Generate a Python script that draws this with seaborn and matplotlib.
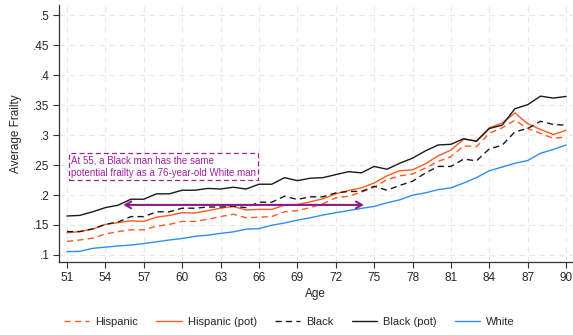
import numpy as np
import pandas as pd
import matplotlib
matplotlib.use("Agg")
import matplotlib.pyplot as plt
import seaborn as sns

ages = list(range(51, 91))

hispanic = [.1226, .125, .128, .135, .139, .142, .142, .148, .151, .156,
            .156, .1595, .164, .168, .162, .163, .164, .172, .174, .179,
            .1854, .1953, .198, .2047, .213, .2256, .232, .235, .245, .256,
            .264, .282, .2807, .303, .312, .3248, .311, .303, .2945, .297]
hispanic_pot = [.137, .139, .143, .151, .154, .157, .156, .163, .166, .1705,
                .170, .174, .178, .181, .175, .176, .176, .183, .184, .1887,
                .1937, .202, .2075, .212, .22, .232, .2405, .242, .252, .2653,
                .275, .293, .2906, .312, .320, .337, .319, .3094, .301, .308]
black = [.139, .139, .1435, .151, .155, .164, .164, .172, .172, .178,
         .178, .18, .18, .181, .179, .188, .188, .198, .1926, .197,
         .197, .2035, .206, .206, .2146, .208, .216, .223, .2366, .2477,
         .2477, .26, .257, .277, .283, .3055, .311, .323, .3177, .3165]
black_pot = [.165, .166, .172, .179, .183, .193, .193, .202, .202, .208,
             .208, .211, .210, .213, .210, .218, .218, .229, .224, .228,
             .229, .234, .239, .237, .2477, .243, .253, .2615, .2735, .2835,
             .2846, .294, .2895, .311, .3165, .344, .3507, .365, .3617, .3645]
white = [.1055, .106, .111, .113, .115, .1165, .119, .122, .125, .1275,
         .131, .133, .136, .1385, .143, .144, .1496, .1534, .158, .162,
         .1666, .1705, .174, .1777, .181, .187, .192, .1997, .2036, .209,
         .212, .22, .229, .2405, .2466, .253, .2575, .2697, .276, .2835]

series_names = ["Hispanic", "Hispanic (pot)", "Black", "Black (pot)", "White"]
series_values = [hispanic, hispanic_pot, black, black_pot, white]
series_colors = ["#FF5A1F", "#FF5A1F", "#1A1A1A", "#1A1A1A", "#2E8FF0"]
series_dashes = [(0, (4.5, 3)), "-", (0, (4.5, 3)), "-", "-"]

x_ticks = list(range(51, 91, 3))
y_ticks = [.1, .15, .2, .25, .3, .35, .4, .45, .5]
y_tick_labels = [".1", ".15", ".2", ".25", ".3", ".35", ".4", ".45", ".5"]

note_text = "At 55, a Black man has the same\npotential frailty as a 76-year-old White man"
arrow_level = 0.1835
arrow_from_age = 74.2
arrow_to_age = 55.4

sns.set_theme(style="white")
plt.rcParams["font.family"] = ["Liberation Sans", "DejaVu Sans"]

frames = []
for name, vals in zip(series_names, series_values):
    frames.append(pd.DataFrame({"Age": ages, "Frailty": vals, "Group": name}))
df = pd.concat(frames, ignore_index=True)

fig = plt.figure(figsize=(5.73, 3.35), dpi=100)
ax = fig.add_axes([0.103, 0.218, 0.895, 0.767])

handles = []
for name, color, ls in zip(series_names, series_colors, series_dashes):
    sub = df[df["Group"] == name]
    sns.lineplot(data=sub, x="Age", y="Frailty", ax=ax, color=color,
                 linewidth=1.0, label=name, legend=False)
    line = ax.lines[-1]
    line.set_linestyle(ls)
    handles.append(line)

ax.set_xlim(50.38, 90.45)
ax.set_ylim(0.0883, 0.517)
ax.set_xticks(x_ticks)
ax.set_yticks(y_ticks)
ax.set_yticklabels(y_tick_labels)
ax.tick_params(axis="both", which="both", direction="out", length=4,
               width=0.8, color="#333333", labelsize=8.5, pad=3,
               left=True, bottom=True)
ax.grid(True, color="#E8E8E8", linestyle=(0, (5, 4)), linewidth=0.8)
ax.set_axisbelow(True)
for side in ["top", "right"]:
    ax.spines[side].set_visible(False)
for side in ["left", "bottom"]:
    ax.spines[side].set_color("#333333")
    ax.spines[side].set_linewidth(0.9)

ax.set_xlabel("Age", fontsize=8.5, labelpad=3)
ax.set_ylabel("Average Frailty", fontsize=8.5, labelpad=8)

ax.annotate("", xy=(arrow_to_age, arrow_level), xytext=(arrow_from_age, arrow_level),
            arrowprops=dict(arrowstyle="<->,head_length=0.35,head_width=0.2",
                            color="#8A1C8A", lw=1.5, shrinkA=0, shrinkB=0))

ax.text(51.3, 0.2475, note_text, fontsize=7, color="#A021A0",
        va="center", ha="left", linespacing=1.3,
        bbox=dict(boxstyle="square,pad=0.2", facecolor="white",
                  edgecolor="#A021A0", linestyle=(0, (4, 2.5)), linewidth=0.9))

fig.legend(handles=handles, labels=series_names, loc="lower center",
           bbox_to_anchor=(0.505, -0.005), ncol=5, frameon=False, fontsize=8,
           handlelength=2.3, columnspacing=1.6, handletextpad=0.55)

fig.savefig("out.png", dpi=100)
